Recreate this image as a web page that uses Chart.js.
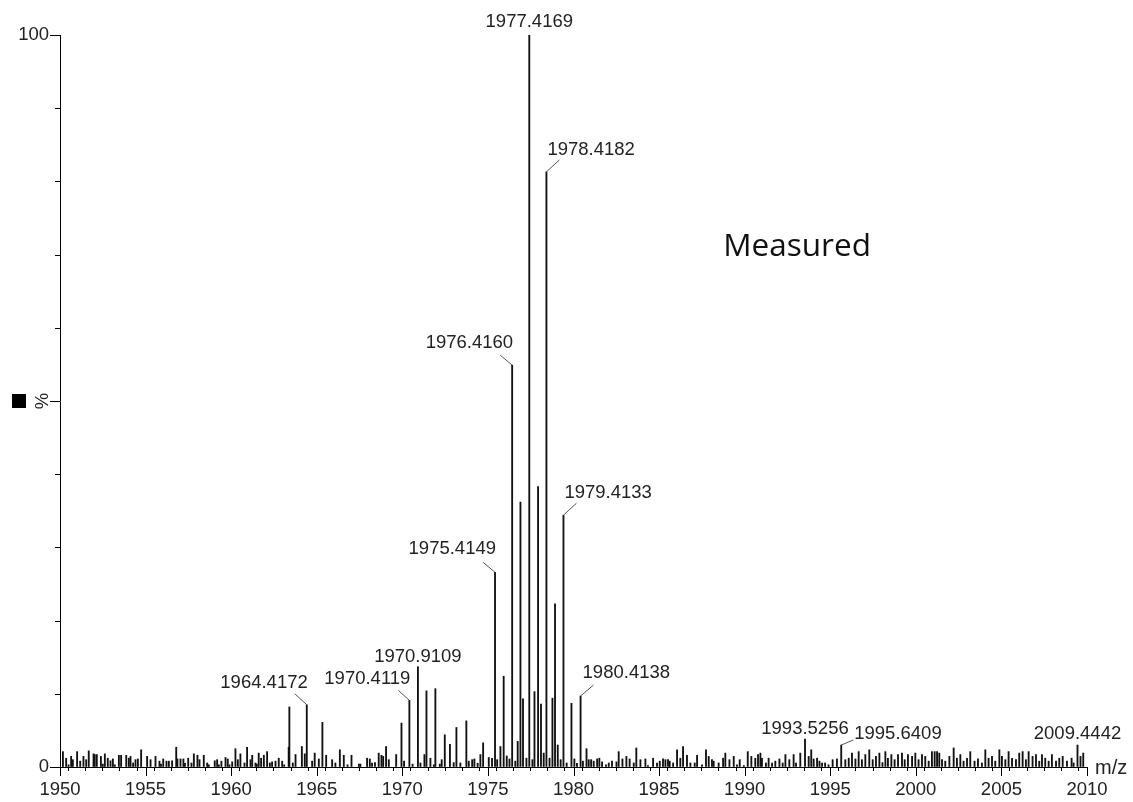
<!DOCTYPE html>
<html>
<head>
<meta charset="utf-8">
<title>Measured</title>
<script src="https://cdn.jsdelivr.net/npm/chart.js@4.4.0/dist/chart.umd.min.js"></script>
<style>
body{margin:0;background:#fff;}
canvas{display:block;}
</style>
</head>
<body>
<canvas id="spectrum" width="1133" height="802"></canvas>
<script>
// m/z axis range and tick labels
var mzMin = 1950, mzMax = 2010;
var mzTickLabels = [1950, 1955, 1960, 1965, 1970, 1975, 1980, 1985, 1990, 1995, 2000, 2005, 2010];
var pctTickLabels = [0, 100];

// labelled peaks (relative intensity %)
var peakMz  = [1964.4172, 1970.4119, 1970.9109, 1975.4149, 1976.4160, 1977.4169, 1978.4182, 1979.4133, 1980.4138, 1993.5256, 1995.6409, 2009.4442];
var peakPct = [8.5, 9.1, 13.7, 26.6, 54.9, 100, 81.3, 34.4, 9.7, 3.8, 3.0, 3.0];

// other isotope / cluster peaks without labels
var clusterMz  = [1963.40, 1965.33, 1969.95, 1971.41, 1971.93, 1972.48, 1972.78, 1973.16, 1973.74, 1974.72, 1975.73, 1975.92, 1976.74, 1976.90, 1977.05, 1977.72, 1977.93, 1978.10, 1978.26, 1978.77, 1978.92, 1979.08, 1979.88, 1980.76];
var clusterPct = [8.2, 6.1, 6.0, 10.4, 10.7, 4.4, 3.1, 5.4, 6.3, 3.3, 2.8, 12.4, 3.5, 36.2, 9.3, 10.3, 38.3, 8.6, 1.9, 9.4, 22.3, 3.0, 8.7, 2.5];

// baseline noise
var noiseMz = [
  1950.17, 1950.36, 1950.50, 1950.65, 1950.75, 1951.00, 1951.18, 1951.37, 1951.53, 1951.68, 1951.96, 1952.03, 1952.15, 1952.39, 1952.50,
  1952.62, 1952.79, 1952.95, 1953.09, 1953.20, 1953.44, 1953.57, 1953.87, 1954.02, 1954.12, 1954.27, 1954.41, 1954.55, 1954.74, 1955.09,
  1955.29, 1955.58, 1955.81, 1955.90, 1956.03, 1956.22, 1956.36, 1956.55, 1956.79, 1956.86, 1957.04, 1957.21, 1957.30, 1957.49, 1957.68,
  1957.82, 1958.03, 1958.15, 1958.40, 1958.60, 1958.69, 1959.04, 1959.18, 1959.28, 1959.43, 1959.67, 1959.80, 1959.90, 1960.06, 1960.25,
  1960.39, 1960.54, 1960.78, 1960.93, 1961.13, 1961.23, 1961.42, 1961.50, 1961.61, 1961.75, 1961.91, 1962.10, 1962.26, 1962.39, 1962.59,
  1962.78, 1962.98, 1963.10, 1963.36, 1963.60, 1963.76, 1964.13, 1964.30, 1964.73, 1964.88, 1965.12, 1965.55, 1965.90, 1966.09, 1966.35,
  1966.58, 1966.80, 1967.03, 1967.46, 1967.55, 1967.94, 1968.10, 1968.23, 1968.40, 1968.62, 1968.78, 1968.88, 1969.05, 1969.21, 1969.64,
  1970.10, 1970.60, 1971.06, 1971.29, 1971.64, 1971.84, 1972.19, 1972.30, 1973.00, 1973.39, 1973.88, 1974.08, 1974.21, 1974.40, 1974.56,
  1975.05, 1975.24, 1975.54, 1976.10, 1976.26, 1976.60, 1977.25, 1977.60, 1978.60, 1979.25, 1979.60, 1980.05, 1980.20, 1980.55, 1980.89,
  1981.03, 1981.18, 1981.38, 1981.51, 1981.67, 1981.90, 1982.06, 1982.25, 1982.51, 1982.64, 1982.86, 1983.09, 1983.28, 1983.52, 1983.67,
  1983.91, 1984.20, 1984.35, 1984.65, 1984.88, 1985.04, 1985.23, 1985.37, 1985.52, 1985.62, 1985.82, 1986.05, 1986.24, 1986.40, 1986.63,
  1986.83, 1987.08, 1987.22, 1987.51, 1987.74, 1987.90, 1988.09, 1988.19, 1988.48, 1988.74, 1988.87, 1989.11, 1989.36, 1989.55, 1989.71,
  1989.95, 1990.18, 1990.39, 1990.62, 1990.78, 1990.92, 1991.01, 1991.24, 1991.40, 1991.60, 1991.79, 1992.03, 1992.22, 1992.38, 1992.61,
  1992.86, 1993.00, 1993.25, 1993.74, 1993.89, 1994.03, 1994.23, 1994.37, 1994.52, 1994.70, 1994.90, 1995.14, 1995.39, 1995.88, 1996.08,
  1996.27, 1996.47, 1996.66, 1996.85, 1997.05, 1997.28, 1997.48, 1997.67, 1997.87, 1998.05, 1998.22, 1998.37, 1998.57, 1998.76, 1998.96,
  1999.19, 1999.35, 1999.54, 1999.78, 1999.97, 2000.16, 2000.36, 2000.55, 2000.75, 2000.94, 2001.10, 2001.24, 2001.37, 2001.53, 2001.72,
  2001.96, 2002.21, 2002.40, 2002.60, 2002.79, 2002.99, 2003.18, 2003.43, 2003.63, 2003.86, 2004.06, 2004.25, 2004.45, 2004.64, 2004.88,
  2005.03, 2005.23, 2005.42, 2005.62, 2005.85, 2006.04, 2006.24, 2006.43, 2006.59, 2006.82, 2007.02, 2007.21, 2007.37, 2007.56, 2007.76,
  2007.95, 2008.19, 2008.38, 2008.58, 2008.83, 2009.10, 2009.22, 2009.62, 2009.78
];
var noisePct = [
  2.1, 1.2, 0.3, 1.45, 1.0, 2.1, 0.8, 1.45, 1.0, 2.2, 1.8, 1.7, 1.7, 1.45, 0.4,
  1.8, 1.2, 0.85, 1.1, 0.3, 1.6, 1.6, 1.6, 1.2, 1.45, 0.55, 1.0, 1.1, 2.35, 1.45,
  1.0, 1.45, 0.8, 0.4, 1.1, 0.8, 0.8, 0.85, 2.7, 1.1, 1.1, 1.1, 0.5, 1.2, 0.55,
  1.8, 1.6, 1.0, 1.6, 0.55, 0.3, 0.85, 1.0, 0.3, 0.8, 1.3, 1.1, 0.3, 0.7, 2.5,
  1.0, 1.8, 0.55, 2.7, 1.0, 1.6, 0.55, 0.4, 1.9, 1.2, 1.6, 2.1, 0.55, 0.7, 0.8,
  1.2, 0.8, 0.3, 2.7, 0.55, 1.7, 2.8, 1.8, 0.8, 1.9, 1.1, 1.6, 1.0, 0.55, 2.35,
  1.6, 0.3, 1.6, 0.4, 0.4, 1.2, 1.1, 0.55, 0.6, 1.9, 1.6, 1.45, 2.8, 1.0, 1.7,
  0.8, 0.4, 0.55, 1.7, 1.2, 0.3, 0.4, 1.0, 0.6, 0.55, 0.8, 1.0, 1.1, 0.5, 1.7,
  1.3, 1.2, 1.0, 1.5, 1.1, 0.8, 1.2, 1.0, 1.2, 1.0, 0.55, 1.1, 0.5, 0.8, 1.0,
  1.0, 0.8, 1.1, 1.2, 0.7, 0.3, 0.55, 0.8, 0.7, 2.1, 1.1, 1.45, 1.1, 0.55, 2.6,
  1.0, 1.1, 0.2, 1.2, 0.55, 0.8, 1.1, 1.0, 1.0, 0.8, 0.55, 2.35, 1.2, 2.8, 1.6,
  0.55, 0.55, 1.6, 0.3, 2.35, 1.45, 1.0, 0.8, 0.55, 1.2, 1.9, 1.0, 1.45, 0.3, 1.0,
  0.2, 2.1, 1.45, 1.2, 1.7, 1.9, 1.2, 0.55, 1.2, 0.55, 0.8, 1.1, 0.55, 1.7, 1.0,
  1.7, 0.55, 1.9, 1.45, 2.35, 1.1, 1.2, 0.8, 0.55, 0.55, 0.3, 1.0, 1.1, 1.0, 1.2,
  1.9, 1.1, 2.1, 1.0, 1.7, 2.35, 1.0, 1.45, 1.9, 0.6, 2.1, 1.2, 1.7, 1.0, 1.7,
  1.9, 1.0, 1.7, 1.45, 1.9, 1.0, 1.7, 1.45, 0.8, 2.1, 2.1, 2.1, 1.9, 1.0, 0.8,
  1.45, 2.6, 1.2, 1.7, 0.8, 1.2, 2.1, 0.8, 1.1, 0.55, 2.35, 1.2, 1.45, 0.8, 2.35,
  1.45, 1.0, 2.1, 1.2, 1.0, 1.9, 2.1, 1.0, 2.1, 1.45, 1.7, 0.8, 1.7, 1.2, 0.8,
  1.7, 0.8, 1.2, 1.45, 0.8, 1.2, 0.55, 1.45, 1.9
];

// where each peak label sits relative to its stick (pixels)
var calloutLayout = [
  {side: 'left',  lx: -12, ly: -11, ty: -22},
  {side: 'left',  lx: -11, ly: -10, ty: -21},
  {side: 'top',   ty: -10},
  {side: 'left',  lx: -12, ly: -10, ty: -23},
  {side: 'left',  lx: -12, ly: -10, ty: -22},
  {side: 'top',   ty: -13},
  {side: 'right', lx: 13, ly: -12, ty: -22, tx: 1},
  {side: 'right', lx: 13, ly: -12, ty: -22, tx: 1},
  {side: 'right', lx: 13, ly: -11, ty: -23, tx: 2},
  {side: 'top',   ty: -10},
  {side: 'right', lx: 12, ly: -5, ty: -11, tx: 13},
  {side: 'top',   ty: -11}
];

var sticks = [];
function addSticks(mz, pct) {
  for (var i = 0; i < mz.length; i++) sticks.push({x: mz[i], y: pct[i]});
}
addSticks(noiseMz, noisePct);
addSticks(clusterMz, clusterPct);
addSticks(peakMz, peakPct);

// one tick per m/z unit, labels only every 5
var mzTicks = [];
for (var m = mzMin; m <= mzMax; m++) mzTicks.push(m);

var labelFont = '18.5px "Liberation Sans", Arial, sans-serif';

var spectrumDecor = {
  id: 'spectrumDecor',
  afterDraw: function(chart) {
    var ctx = chart.ctx, xs = chart.scales.x, ys = chart.scales.y;
    var area = chart.chartArea;
    ctx.save();

    // longer marks at labelled m/z, and the % ticks on the left
    ctx.strokeStyle = '#000';
    ctx.lineWidth = 1;
    ctx.beginPath();
    var baseY = Math.round(area.bottom);
    mzTickLabels.forEach(function(v) {
      var px = Math.round(xs.getPixelForValue(v)) + 0.5;
      ctx.moveTo(px, baseY);
      ctx.lineTo(px, baseY + 9);
    });
    for (var p = 0; p <= 100; p += 10) {
      var py = Math.round(ys.getPixelForValue(p)) + 0.5;
      var len2 = (p % 50 === 0) ? 10 : 5;
      ctx.moveTo(area.left, py);
      ctx.lineTo(area.left - len2, py);
    }
    ctx.stroke();

    // peak labels with leader lines
    ctx.font = labelFont;
    ctx.fillStyle = '#222';
    ctx.strokeStyle = '#555';
    ctx.textBaseline = 'middle';
    for (var i = 0; i < peakMz.length; i++) {
      var L = calloutLayout[i];
      var x0 = xs.getPixelForValue(peakMz[i]);
      var y0 = ys.getPixelForValue(peakPct[i]);
      var text = peakMz[i].toFixed(4);
      if (L.side === 'top') {
        ctx.textAlign = 'center';
        ctx.fillText(text, x0, y0 + L.ty);
      } else {
        ctx.beginPath();
        ctx.moveTo(x0, y0);
        ctx.lineTo(x0 + L.lx, y0 + L.ly);
        ctx.stroke();
        if (L.side === 'left') {
          ctx.textAlign = 'right';
          ctx.fillText(text, x0 + 1, y0 + L.ty);
        } else {
          ctx.textAlign = 'left';
          ctx.fillText(text, x0 + L.tx, y0 + L.ty);
        }
      }
    }

    // axis titles
    ctx.fillStyle = '#222';
    ctx.font = '20px "Liberation Sans", Arial, sans-serif';
    ctx.textAlign = 'left';
    ctx.fillText('m/z', area.right + 8, area.bottom + 1);

    var midY = ys.getPixelForValue(50);
    ctx.save();
    ctx.translate(area.left - 17, midY);
    ctx.rotate(-Math.PI / 2);
    ctx.font = labelFont;
    ctx.textAlign = 'center';
    ctx.fillText('%', 0, 0);
    ctx.restore();
    ctx.fillStyle = '#000';
    ctx.fillRect(12, midY - 7, 14, 14);

    // sample caption
    ctx.fillStyle = '#111';
    ctx.font = '31.5px "Open Sans", sans-serif';
    ctx.textAlign = 'left';
    ctx.fillText('Measured', xs.getPixelForValue(1988.75), ys.getPixelForValue(71.0));

    ctx.restore();
  }
};

new Chart(document.getElementById('spectrum'), {
  type: 'bar',
  data: {
    datasets: [{
      data: sticks,
      backgroundColor: '#111',
      borderWidth: 0,
      barThickness: 1.2
    }]
  },
  options: {
    responsive: false,
    animation: false,
    devicePixelRatio: 1,
    layout: {padding: {top: 35, right: 46, left: 0, bottom: 0}},
    plugins: {legend: {display: false}, tooltip: {enabled: false}},
    scales: {
      x: {
        type: 'linear',
        min: mzMin,
        max: mzMax,
        offset: false,
        afterFit: function(s) { s.height = 35; },
        afterBuildTicks: function(s) {
          s.ticks = mzTicks.map(function(v) { return {value: v}; });
        },
        grid: {display: true, drawOnChartArea: false, drawTicks: true, tickLength: 4, tickColor: '#000'},
        border: {display: true, color: '#000', width: 1},
        ticks: {
          autoSkip: false,
          maxRotation: 0,
          padding: 8,
          color: '#222',
          font: {family: '"Liberation Sans", Arial, sans-serif', size: 18.5},
          callback: function(v) { return mzTickLabels.indexOf(v) >= 0 ? String(v) : ''; }
        }
      },
      y: {
        min: 0,
        max: 100,
        afterFit: function(s) { s.width = 60; },
        afterBuildTicks: function(s) {
          s.ticks = pctTickLabels.map(function(v) { return {value: v}; });
        },
        grid: {display: true, drawOnChartArea: false, drawTicks: false},
        border: {display: true, color: '#000', width: 1},
        ticks: {
          padding: 11,
          color: '#222',
          font: {family: '"Liberation Sans", Arial, sans-serif', size: 18.5},
          callback: function(v) { return String(v); }
        }
      }
    }
  },
  plugins: [spectrumDecor]
});
</script>
</body>
</html>
